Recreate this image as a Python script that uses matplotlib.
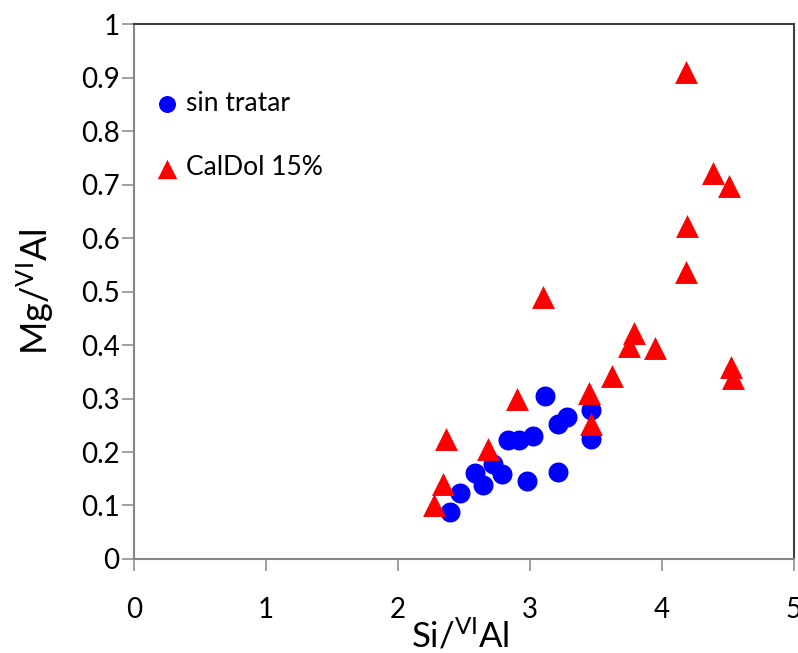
import matplotlib.pyplot as plt

plt.rcParams['font.family'] = ['Lato', 'DejaVu Sans']
plt.rcParams['mathtext.default'] = 'regular'

# sin tratar (blue circles)
raw_x = [2.39, 2.47, 2.58, 2.64, 2.72, 2.79, 2.83, 2.92, 3.02, 2.98,
         3.11, 3.21, 3.28, 3.21, 3.46, 3.46]
raw_y = [0.088, 0.124, 0.160, 0.138, 0.177, 0.158, 0.222, 0.222, 0.229, 0.146,
         0.305, 0.253, 0.265, 0.163, 0.278, 0.225]

# CalDol 15% (red triangles)
cal_x = [2.27, 2.34, 2.36, 2.68, 2.90, 3.10, 3.45, 3.46, 3.62, 3.75,
         3.79, 3.95, 4.18, 4.19, 4.18, 4.39, 4.51, 4.52, 4.54]
cal_y = [0.101, 0.141, 0.224, 0.205, 0.300, 0.489, 0.311, 0.253, 0.342, 0.399,
         0.422, 0.395, 0.536, 0.623, 0.911, 0.721, 0.698, 0.359, 0.339]

fig = plt.figure(figsize=(7.98, 6.53), dpi=100)
ax = fig.add_axes([0.168, 0.144, 0.827, 0.819])

ax.scatter(raw_x, raw_y, s=207, marker='o', color='#0000FF', linewidths=0,
           label='sin tratar', zorder=3)
ax.scatter(cal_x, cal_y, s=272, marker='^', color='#FF0000', linewidths=0,
           label='CalDol 15%', zorder=4)

ax.set_xlim(0, 5)
ax.set_ylim(0, 1)
ax.set_xticks([0, 1, 2, 3, 4, 5])
ax.set_xticklabels(['0', '1', '2', '3', '4', '5'])
yt = [0, 0.1, 0.2, 0.3, 0.4, 0.5, 0.6, 0.7, 0.8, 0.9, 1]
ax.set_yticks(yt)
ax.set_yticklabels(['0', '0.1', '0.2', '0.3', '0.4', '0.5', '0.6', '0.7', '0.8', '0.9', '1'])

for side in ['left', 'bottom']:
    ax.spines[side].set_color('#868686')
    ax.spines[side].set_linewidth(1.5)
for side in ['top', 'right']:
    ax.spines[side].set_color('#404040')
    ax.spines[side].set_linewidth(1.5)

ax.tick_params(axis='both', direction='out', length=8.5, width=1.1,
               color='#868686', labelsize=20, labelcolor='black')
ax.tick_params(axis='x', pad=19)
ax.tick_params(axis='y', pad=2)

ax.set_xlabel('Si/$^{VI}$Al', fontsize=25)
ax.set_ylabel('Mg/$^{VI}$Al', fontsize=26)
ax.xaxis.set_label_coords(0.495, -0.112)
ax.yaxis.set_label_coords(-0.118, 0.5)

ax.legend(loc='upper left', bbox_to_anchor=(0.01, 0.895), frameon=False,
          fontsize=19, labelspacing=1.5, handletextpad=0.1, handlelength=1.2,
          markerscale=0.85, borderaxespad=0)

fig.savefig('out.png', dpi=100)
